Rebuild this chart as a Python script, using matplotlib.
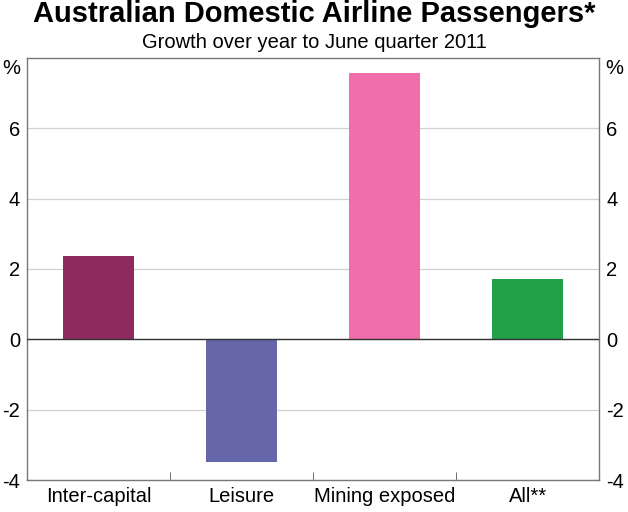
import numpy as np
import matplotlib
matplotlib.use("Agg")
import matplotlib.pyplot as plt

plt.rcParams['font.family'] = ['Liberation Sans', 'DejaVu Sans']
plt.rcParams['axes.unicode_minus'] = False

# data
categories = ["Inter-capital", "Leisure", "Mining exposed", "All**"]
growth = [2.38, -3.5, 7.57, 1.7]
bar_colors = ["#8E2A5E", "#6667AB", "#F06EA9", "#23A04A"]

fig = plt.figure(figsize=(6.28, 5.12), dpi=100)
ax = fig.add_axes([0.043, 0.0625, 0.911, 0.8245])

x = np.arange(len(categories))
ax.bar(x, growth, width=0.5, color=bar_colors, zorder=3)

ax.set_xlim(-0.5, len(categories) - 0.5)
ax.set_ylim(-4, 8)
ax.set_yticks([-4, -2, 0, 2, 4, 6])
ax.yaxis.grid(True, color="#d0d0d0", linewidth=0.9, zorder=0)
ax.axhline(0, color="#333333", linewidth=1.0, zorder=4)

ax.set_xticks(x)
ax.set_xticklabels(categories, fontsize=14.5)
ax.tick_params(axis="x", length=0, pad=5)
ax.set_xticks([0.5, 1.5, 2.5], minor=True)
ax.tick_params(axis="x", which="minor", direction="in", length=6, color="#555555")

ax.tick_params(axis="y", length=0, labelsize=14.5, left=False, right=False,
               labelleft=True, labelright=True, pad=5)

for sp in ax.spines.values():
    sp.set_color("#777777")
    sp.set_linewidth(1.0)

ax.text(-0.011, 0.998, "%", transform=ax.transAxes, ha="right", va="top", fontsize=14.5)
ax.text(1.011, 0.998, "%", transform=ax.transAxes, ha="left", va="top", fontsize=14.5)

fig.text(0.5, 0.972, "Australian Domestic Airline Passengers*", ha="center", va="center",
         fontsize=21, fontweight="bold")
fig.text(0.5, 0.917, "Growth over year to June quarter 2011", ha="center", va="center",
         fontsize=14.5)

fig.savefig("out.png", dpi=100)
